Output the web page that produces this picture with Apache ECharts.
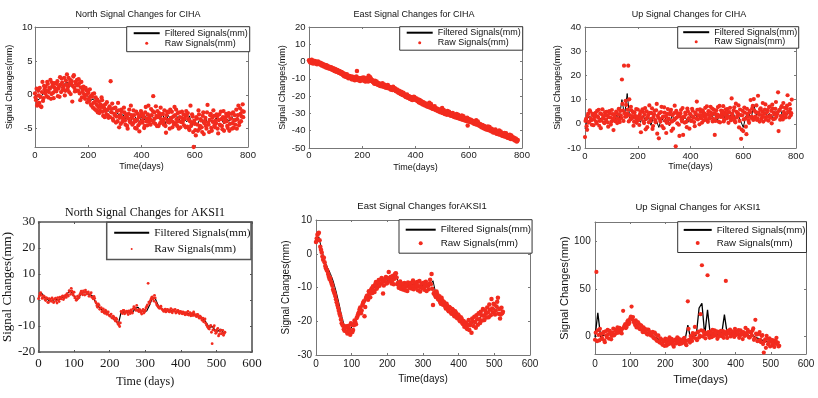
<!DOCTYPE html>
<html>
<head>
<meta charset="utf-8">
<script src="https://cdn.jsdelivr.net/npm/echarts@6/dist/echarts.min.js"></script>
<style>
html, body { margin: 0; padding: 0; background: #fff; }
#chart { width: 818px; height: 398px; }
</style>
</head>
<body>
<div id="chart"></div>
<script>
// raw ones every 4 days (two interleaved sets, days 0,4,.. and 2,6,..),
// filtered ones every 10 (CIHA) / 8 (AKSI1) days
var rawStep = 4, cihaFiltStep = 10, aksiFiltStep = 8;

var northCihaRaw = [
  0.2, -0.8, -1.6, 0.6, -1.2, -0.3, -1.8, 1.9, -0.5, 0.8,
  1.2, -0.2, 1.6, 0.4, 0.9, -0.6, 1.8, 0.3, 1.1, 0.6,
  0.5, 2.0, 0.9, -0.3, 1.5, 2.4, 0.7, 1.3, -0.1, 2.1,
  3.0, 1.2, 0.4, 2.2, 1.6, -1.0, 2.7, 1.0, 1.9, 0.6,
  1.4, 2.3, 0.2, 1.1, -0.4, 0.9, 0.1, -0.6, 0.7, -1.1,
  0.3, -0.9, -0.2, -1.6, 0.1, -1.2, -2.1, -0.4, -1.5, -2.6,
  -1.0, -2.3, -1.8, -0.8, -3.1, -2.0, -1.4, -2.9, -2.2, -3.4,
  -1.7, 2.0, -2.6, -3.5, -2.0, -3.0, -4.1, -2.4, -1.2, -4.8,
  -3.0, -2.2, -4.0, -3.6, -2.6, -4.4, -3.2, -5.0, -2.8, -3.9,
  -1.6, -3.4, -4.2, -3.0, -4.9, -2.5, -3.7, -4.5, -5.4, -3.1,
  -2.7, -4.1, -3.3, -4.6, -1.8, -3.5, -2.9, -4.0, -3.6, -2.1,
  -3.8, -0.2, -2.6, -4.3, -3.1, -2.4, -4.6, -3.0, -1.9, -3.9,
  -2.8, -4.4, -3.5, -5.6, -2.5, -3.7, -4.1, -2.2, -3.4, -4.8,
  -3.2, -1.8, -4.2, -3.6, -2.7, -5.0, -3.3, -4.0, -2.5, -3.8,
  -4.5, -3.0, -2.4, -4.7, -3.6, -5.2, -1.6, -4.1, -3.2, -7.7,
  -4.3, -6.0, -3.5, -5.3, -2.9, -4.6, -3.8, -5.5, -2.6, -4.2,
  -3.4, -5.0, -1.5, -4.4, -3.7, -2.8, -5.3, -4.0, -3.1, -4.8,
  -4.2, -3.2, -5.7, -2.9, -4.5, -3.6, -5.1, -2.4, -4.0, -3.3,
  -3.9, -4.9, -2.7, -4.3, -3.5, -5.0, -2.6, -3.8, -4.4, -2.2,
  -3.6, -1.6, -4.1, -2.8, -3.2, -1.4, -2.5
];
var northCihaRawB = [
  -0.4, 0.9, -1.3, -0.1, 1.0, -1.7, 0.4, -0.9, 1.3, 0.2,
  0.6, 1.9, -0.4, 1.0, 2.2, 0.1, 1.4, -0.5, 1.7, 0.9,
  1.6, -0.2, 1.2, 2.6, 0.4, 1.8, 1.0, 2.5, 0.6, 1.5,
  0.8, 2.5, 1.7, 0.1, 2.0, 1.3, 2.9, 0.5, 1.6, 2.2,
  0.6, 1.7, -0.8, 1.9, 0.5, 1.2, -0.3, 1.0, 0.0, 0.6,
  -0.6, 0.8, -1.4, -0.3, -1.9, 0.2, -1.0, -2.3, -0.7, -1.8,
  -2.7, -1.4, -0.4, -2.5, -1.6, -3.3, -2.4, -1.1, -3.0, -2.0,
  -3.3, -2.1, -1.3, -3.8, -2.8, -1.9, -3.2, -3.9, -2.3, -3.4,
  -4.3, -2.5, -3.4, -1.9, -3.8, -2.9, -4.6, -3.5, -2.2, -4.1,
  -3.0, -4.4, -2.3, -3.7, -3.9, -5.0, -2.8, -3.3, -4.2, -2.4,
  -3.8, -3.0, -4.9, -2.6, -3.9, -4.5, -1.6, -3.2, -4.4, -3.0,
  -2.4, -4.1, -3.5, -1.7, -4.6, -3.3, -2.7, -4.2, -3.6, -2.9,
  -3.9, -2.3, -4.6, -3.0, -4.0, -2.6, -5.0, -3.7, -2.5, -4.0,
  -4.4, -3.0, -2.2, -4.6, -3.9, -2.6, -4.8, -3.4, -4.1, -2.9,
  -3.5, -4.8, -3.1, -2.7, -5.0, -3.9, -4.6, -2.9, -5.5, -3.8,
  -5.2, -3.3, -4.4, -2.3, -5.0, -3.6, -4.8, -3.1, -5.8, -3.9,
  -4.6, -2.6, -4.1, -5.5, -3.0, -4.9, -3.4, -2.3, -4.5, -3.8,
  -2.9, -5.0, -3.7, -4.4, -2.5, -4.6, -3.3, -5.3, -3.7, -2.8,
  -4.6, -3.1, -5.3, -3.5, -2.8, -4.2, -4.9, -3.0, -3.7, -5.0,
  -3.0, -4.5, -2.0, -3.9, -2.4, -3.3
];
var northCihaFilt = [
  0.0, -0.8, -0.5, 0.2, 0.8, 0.5, 1.2, 0.9, 1.0, 1.4,
  1.1, 1.6, 1.9, 1.2, 1.5, 0.9, 1.7, 1.0, 0.4, 0.1,
  -0.3, -0.8, -0.6, -1.4, -1.9, -1.6, -2.3, -2.0, -2.6, -2.4,
  -3.1, -2.7, -3.3, -2.9, -3.6, -3.2, -3.9, -3.0, -3.5, -4.2,
  -3.3, -3.7, -2.9, -3.4, -3.1, -3.8, -3.2, -3.5, -2.8, -4.3,
  -3.0, -3.6, -3.4, -2.9, -3.8, -3.2, -3.5, -4.0, -3.1, -4.6,
  -3.9, -4.4, -3.5, -4.1, -3.3, -4.5, -3.7, -4.2, -3.4, -4.0,
  -3.6, -4.3, -3.5, -3.9, -3.2, -4.0, -3.3, -2.9, -2.5
];

var eastCihaRaw = [
  0.8, -0.4, 0.2, -1.0, 0.5, -0.7, 0.1, -1.3, -0.2, -0.9,
  -1.5, -0.8, -2.3, -1.6, -2.8, -2.1, -3.4, -2.6, -3.9, -3.1,
  -4.2, -3.5, -4.8, -4.0, -5.4, -4.6, -5.9, -5.2, -6.5, -5.7,
  -7.0, -6.3, -7.8, -8.5, -7.4, -8.9, -8.1, -9.6, -8.4, -9.0,
  -10.2, -8.8, -9.7, -10.8, -9.3, -5.4, -10.5, -9.8, -11.2, -10.0,
  -9.4, -10.9, -10.1, -11.5, -9.6, -10.4, -8.2, -11.0, -9.9, -10.6,
  -11.8, -12.4, -11.1, -13.0, -12.2, -13.6, -12.8, -14.1, -13.3, -12.6,
  -14.5, -13.8, -15.0, -14.2, -13.5, -15.4, -14.7, -16.1, -15.2, -14.6,
  -16.4, -15.7, -17.2, -16.6, -18.0, -17.3, -18.7, -17.9, -19.3, -18.5,
  -19.8, -20.5, -19.1, -21.0, -20.2, -21.6, -20.8, -22.3, -21.4, -20.7,
  -22.0, -21.3, -22.8, -23.5, -22.2, -24.1, -23.3, -24.8, -23.9, -25.4,
  -24.6, -26.0, -25.2, -23.8, -26.7, -25.9, -27.3, -26.5, -25.8, -27.9,
  -27.1, -28.4, -27.7, -29.0, -28.2, -26.9, -29.6, -28.8, -30.2, -29.3,
  -28.6, -30.5, -29.8, -31.2, -30.4, -29.7, -31.8, -30.9, -32.3, -31.5,
  -30.8, -32.6, -31.9, -33.3, -32.5, -31.7, -33.9, -32.9, -34.4, -37.0,
  -33.2, -34.8, -33.6, -35.3, -34.5, -36.0, -35.1, -33.9, -36.6, -35.7,
  -37.2, -36.4, -38.0, -36.9, -38.6, -37.7, -39.2, -38.3, -37.5, -39.8,
  -38.9, -40.3, -39.5, -41.0, -40.1, -39.3, -41.6, -40.7, -42.1, -41.3,
  -40.5, -42.6, -41.8, -43.2, -42.4, -41.5, -43.8, -42.9, -44.3, -43.5,
  -42.7, -44.6, -43.9, -45.3, -44.5, -46.2, -45.4
];
var eastCihaRawB = [
  0.3, -0.6, 1.0, -0.3, -1.1, 0.4, -0.5, -1.6, 0.0, -1.2,
  -0.7, -2.0, -1.2, -2.4, -1.9, -3.1, -2.2, -3.6, -2.9, -4.0,
  -3.3, -4.6, -3.8, -5.1, -4.3, -5.7, -4.9, -6.2, -5.5, -6.8,
  -6.1, -7.5, -6.7, -8.0, -8.6, -7.3, -9.1, -8.3, -9.5, -8.7,
  -9.4, -10.4, -9.0, -10.1, -8.6, -10.6, -9.5, -10.9, -9.7, -10.3,
  -10.7, -9.2, -11.2, -10.3, -9.8, -11.6, -10.0, -9.1, -11.3, -10.8,
  -11.4, -12.9, -12.0, -11.6, -13.3, -12.5, -13.9, -13.0, -14.3, -13.5,
  -13.2, -14.8, -14.0, -15.3, -14.4, -14.9, -16.0, -15.5, -16.4, -15.8,
  -15.5, -17.0, -16.2, -17.6, -16.9, -18.3, -17.5, -19.0, -18.1, -19.6,
  -20.2, -19.4, -20.8, -19.9, -21.3, -20.5, -21.9, -21.0, -20.3, -22.1,
  -21.5, -22.6, -21.9, -23.2, -24.0, -22.9, -24.5, -23.6, -25.0, -24.2,
  -25.7, -24.9, -26.3, -25.5, -24.6, -27.0, -26.2, -27.6, -26.8, -28.1,
  -27.4, -28.8, -27.9, -29.3, -28.5, -29.8, -28.0, -30.3, -29.4, -30.8,
  -30.0, -29.1, -31.0, -30.2, -31.5, -30.7, -32.1, -31.3, -30.4, -32.6,
  -31.9, -33.1, -32.3, -31.2, -33.6, -32.7, -34.0, -33.2, -32.5, -34.4,
  -34.6, -33.8, -35.0, -34.2, -35.6, -34.8, -36.2, -35.4, -34.6, -36.9,
  -36.1, -37.5, -36.7, -38.1, -37.3, -38.8, -37.9, -39.4, -38.6, -37.8,
  -39.7, -38.8, -40.5, -39.6, -41.1, -40.3, -41.8, -40.9, -39.9, -42.4,
  -41.6, -42.9, -42.1, -41.3, -43.5, -42.6, -44.0, -43.2, -42.3, -44.8,
  -43.6, -45.0, -44.2, -45.7, -44.9, -46.0
];
var eastCihaFilt = [
  0.0, -0.5, -0.8, -0.6, -1.8, -2.5, -3.0, -3.6, -4.3, -5.0,
  -5.4, -6.1, -6.8, -7.6, -8.2, -8.8, -9.3, -9.9, -10.1, -10.4,
  -10.0, -10.6, -10.2, -9.8, -11.3, -12.0, -12.9, -13.5, -14.0, -14.6,
  -14.3, -15.1, -16.0, -16.8, -17.5, -18.3, -19.6, -20.2, -20.9, -21.3,
  -21.8, -22.5, -23.0, -24.2, -24.7, -25.5, -26.1, -26.3, -27.2, -27.9,
  -28.3, -28.9, -29.4, -30.2, -30.6, -31.1, -31.8, -32.4, -32.9, -33.6,
  -33.8, -34.5, -35.1, -35.5, -36.6, -37.2, -37.9, -38.5, -39.1, -39.7,
  -40.0, -40.6, -41.3, -41.9, -42.4, -43.0, -43.6, -44.2, -44.9
];

var upCihaRaw = [
  -5.5, 2.0, -2.5, 4.2, 0.8, 5.0, 1.5, 3.6, -0.6, 2.8,
  4.5, 0.2, 3.1, 5.8, 1.2, -1.8, 3.9, 2.3, 0.5, 4.8,
  1.7, 3.4, -1.2, 5.2, 2.6, 0.9, 4.0, -2.6, 3.0, 1.4,
  4.6, 2.1, 6.2, 0.7, 3.5, 18.3, 5.5, 24.0, 2.9, 7.8,
  4.3, 24.0, 10.1, 1.8, 5.6, 3.2, -0.8, 4.7, 2.4, 0.4,
  5.9, 1.6, 3.8, -3.5, 2.7, 4.9, 0.3, 6.5, 2.0, -1.4,
  3.7, 7.6, 1.1, 4.4, -2.1, 2.9, 5.3, 0.6, 8.2, 3.3,
  -6.0, 1.9, 4.8, -0.9, 3.0, 6.8, 1.3, -3.8, 4.1, 2.2,
  0.1, 5.0, -2.9, 3.6, 1.5, 7.5, -9.3, 2.6, 4.3, -0.4,
  3.1, 5.7, 1.0, -4.6, 2.8, 4.6, 0.8, 6.3, 2.0, -2.0,
  3.9, 1.4, 5.4, 2.5, -1.0, 4.2, 9.2, 1.8, 3.4, 6.0,
  2.3, 0.5, 4.7, 3.0, 6.6, 1.6, 3.8, 5.2, 2.1, 7.0,
  3.6, 1.0, 5.9, -4.6, 4.0, 2.7, 6.9, 3.2, 0.6, 5.5,
  2.9, 7.3, 1.8, 4.5, 3.3, 6.1, 0.4, 4.8, 2.4, 10.5,
  3.0, 5.6, 1.2, 8.3, 2.6, 4.4, -1.5, 5.9, -6.2, 3.5,
  -3.0, 6.7, 2.2, -4.3, 4.1, 1.4, 5.3, 9.8, 3.0, 7.4,
  10.2, 2.5, 4.8, 1.6, 11.6, 3.7, 6.0, 2.0, 5.1, 0.9,
  4.2, 8.0, 2.8, 5.7, 1.3, 7.1, 3.4, 0.2, 6.3, 4.6,
  2.1, 9.0, 3.9, 13.0, 5.5, 1.7, 6.8, 3.1, 8.6, 4.2,
  2.6, 6.4, 11.8, 4.9, 8.1, 3.5, 10.0
];
var upCihaRawB = [
  1.2, -1.0, 3.3, 0.5, 5.6, 2.2, -0.4, 4.1, 1.8, 3.7,
  0.9, 5.3, 2.5, -0.8, 4.3, 1.4, 6.0, 2.9, 0.3, 3.5,
  4.9, 0.6, 2.8, 4.4, -0.3, 5.7, 2.0, 3.9, 1.1, 5.0,
  0.3, 3.8, 1.6, 5.3, 2.4, 8.2, 1.2, 4.4, 9.5, 3.1,
  5.9, 1.0, 3.6, 7.0, 2.2, 4.8, 0.8, 3.3, 6.1, 1.5,
  3.0, -0.5, 4.9, 2.3, 6.0, 1.0, 3.7, -2.3, 5.1, 2.8,
  0.6, 4.5, 2.0, 6.4, -0.9, 3.9, 1.5, 5.6, -4.1, 2.5,
  4.4, 0.9, 7.0, 2.6, -1.8, 4.6, 3.1, 0.4, 6.1, 1.8,
  3.9, 5.8, 1.0, -2.0, 4.4, 2.1, 5.3, 0.2, 3.5, -5.0,
  4.3, 1.8, 6.5, 2.9, 0.5, 3.8, -1.4, 5.2, 2.4, 4.0,
  1.2, 6.2, 3.0, 0.7, 4.6, 2.2, 5.8, 3.5, -0.2, 4.9,
  3.4, 5.6, 1.4, 4.2, 2.6, 7.2, 0.8, 5.0, 3.3, 4.5,
  6.3, 2.0, 4.4, 1.2, 5.6, 3.8, 0.9, 7.4, 2.8, 4.2,
  5.2, 1.0, 3.9, 6.0, 2.2, 4.7, 3.0, 6.6, 1.5, 4.1,
  2.4, 6.8, 0.6, 4.9, 3.4, 7.6, 1.2, 3.6, -2.4, 5.3,
  1.8, 4.6, -1.2, 6.2, 2.9, 0.4, 4.8, 2.4, 6.4, 1.6,
  5.4, 3.0, 7.6, 2.2, 4.6, 0.9, 6.4, 3.6, 8.6, 2.8,
  5.9, 1.7, 4.8, 3.1, 6.9, 2.5, 5.3, 7.9, 1.9, 4.0,
  6.2, 2.9, 4.7, -3.0, 5.8, 3.2, 7.3, 1.8, 4.9, 6.6,
  3.8, 7.5, 5.0, 2.6, 6.1, 4.4
];
var upCihaFilt = [
  -2.0, 2.5, 3.0, 1.5, 2.8, 3.4, 1.9, 2.6, 0.8, 3.1,
  2.2, 1.0, 3.5, 2.4, 10.0, 3.5, 12.5, 2.0, 3.2, 1.8,
  2.6, 0.6, 3.4, 1.2, 2.8, -0.6, 3.0, 1.5, -1.5, 2.4,
  0.8, 3.2, -0.9, 3.8, 1.0, 2.2, 3.6, 1.4, 2.7, 0.6,
  3.0, 2.2, 3.8, 1.7, 3.5, 2.4, 4.1, 3.0, 2.2, 4.4,
  1.0, 3.6, 4.8, 2.5, 4.0, 3.1, 5.0, 2.2, 3.8, 1.2,
  -1.5, 3.2, 4.6, 2.0, 8.0, 3.4, 4.7, 2.6, 5.0, 3.3,
  4.2, 2.4, 5.1, 3.5, 6.2, 2.8, 4.6, 3.9, 5.2
];

var northAksiRaw = [
  0.5, 2.5, 1.8, 0.9, 1.4, -0.2, 0.6, -1.0, 0.3, -0.5,
  0.2, -0.8, 0.7, -1.2, 0.0, 1.1, 0.4, 1.6, 0.8, 1.9,
  2.4, 1.5, 3.2, 4.5, 2.6, 3.0, 1.2, 0.2, 0.8, 2.1,
  3.4, 2.0, 2.9, 3.8, 2.3, 3.1, 1.7, 2.8, 0.9, 1.4,
  -0.6, -2.2, -1.5, -3.6, -2.9, -4.2, -4.8, -3.9, -5.5, -4.6,
  -6.2, -5.4, -7.0, -6.6, -8.1, -7.5, -9.3, -10.2, -4.4, -5.2,
  -4.0, -4.9, -4.3, -5.6, -4.6, -3.8, -5.0, -2.6, -3.3, -2.1,
  -4.1, -3.6, -4.8, -4.2, -5.0, -3.9, -2.5, 6.4, -1.3, 0.3,
  1.2, -0.4, 0.8, -1.8, -2.6, -3.2, -2.4, -3.7, -4.4, -3.5,
  -4.2, -3.8, -4.6, -3.3, -4.9, -4.1, -3.6, -4.7, -4.0, -5.2,
  -4.5, -5.3, -4.8, -5.7, -5.0, -4.4, -5.5, -6.1, -5.2, -4.6,
  -5.9, -6.4, -5.6, -7.0, -6.6, -7.8, -8.4, -7.3, -9.6, -10.5,
  -11.2, -9.8, -16.8, -10.4, -11.8, -12.5, -10.9, -13.2, -11.6, -12.8,
  -13.6, -12.4
];
var northAksiRawB = [
  1.5, 2.8, 0.6, 1.6, 0.2, 0.9, -0.9, 0.5, -0.3, 0.8,
  -1.0, 0.4, -0.3, 0.9, -0.6, 0.6, 1.3, 0.2, 1.4, 1.0,
  1.9, 3.6, 2.2, 3.5, 1.8, 0.8, -0.1, 1.5, 1.0, 2.6,
  2.5, 3.5, 1.9, 3.0, 2.6, 1.4, 2.4, 1.1, 0.4, 0.6,
  -1.2, -2.8, -2.0, -3.2, -4.5, -3.4, -5.1, -4.3, -5.0, -5.8,
  -5.8, -6.8, -6.2, -7.6, -7.0, -8.6, -9.6, -8.8, -4.8, -4.0,
  -5.3, -4.5, -4.9, -4.2, -5.2, -4.4, -3.4, -2.9, -4.0, -3.8,
  -4.5, -4.0, -5.4, -3.6, -4.6, -3.0, -1.9, -0.8, -0.4, 1.0,
  0.4, 1.8, -1.0, -2.2, -3.0, -2.8, -3.4, -4.0, -3.9, -4.6,
  -3.6, -4.4, -3.9, -4.5, -3.8, -4.3, -5.0, -4.2, -4.8, -4.4,
  -5.0, -4.6, -5.4, -4.9, -5.6, -5.8, -4.9, -5.7, -6.0, -5.3,
  -6.1, -5.5, -6.5, -6.2, -7.2, -7.0, -8.0, -8.9, -10.0, -11.0,
  -10.2, -12.4, -11.5, -9.9, -12.8, -11.4, -13.8, -12.1, -13.0, -11.7,
  -12.9
];
var northAksiFilt = [
  1.0, 2.8, 1.2, 0.3, -0.4, -0.2, 0.3, 0.0, 0.8, 1.2,
  2.2, 3.8, 2.5, 0.5, 0.4, 2.6, 2.9, 2.7, 2.0, 1.5,
  -0.8, -2.4, -3.5, -4.6, -5.0, -6.1, -7.0, -7.8, -9.5, -4.8,
  -4.6, -4.8, -4.5, -4.9, -3.2, -2.8, -4.3, -4.5, -4.2, -2.0,
  0.8, 0.6, -2.0, -3.2, -3.8, -4.0, -4.3, -4.1, -4.5, -4.4,
  -4.8, -5.1, -5.0, -5.4, -5.3, -5.8, -6.2, -6.8, -7.4, -8.8,
  -10.8, -10.1, -11.6, -12.0, -11.2, -12.6
];

var eastAksiRaw = [
  3.5, 5.6, 6.2, 2.1, 0.4, -1.8, -2.5, -4.3, -5.1, -6.8,
  -7.2, -8.9, -10.6, -11.8, -13.5, -15.2, -16.9, -18.4, -20.6, -21.3,
  -22.8, -21.5, -23.6, -22.1, -24.0, -21.0, -22.6, -19.8, -20.9, -18.6,
  -17.4, -15.9, -16.8, -14.6, -18.5, -13.2, -12.4, -11.1, -12.9, -10.3,
  -9.6, -11.3, -8.4, -9.9, -7.8, -8.9, -7.2, -11.8, -8.1, -6.9,
  -8.6, -5.4, -7.6, -8.8, -6.5, -7.4, -5.8, -9.0, -10.1, -8.2,
  -9.4, -10.6, -8.7, -9.8, -11.0, -8.9, -9.5, -10.3, -7.9, -9.1,
  -10.0, -8.4, -9.6, -11.2, -8.8, -9.9, -10.7, -8.3, -9.2, -10.5,
  -7.7, -6.0, -15.2, -11.4, -12.8, -11.9, -13.6, -14.3, -13.0, -15.1,
  -14.5, -16.2, -15.4, -17.0, -16.1, -17.8, -16.7, -18.5, -17.4, -19.1,
  -18.3, -20.0, -19.2, -20.8, -21.6, -20.4, -22.3, -19.6, -21.2, -23.4,
  -20.1, -18.7, -21.9, -19.4, -17.6, -20.5, -18.2, -16.4, -19.6, -17.8,
  -15.9, -18.8, -16.6, -13.4, -17.3, -15.0, -16.9, -14.2, -17.8, -19.2,
  -16.0, -17.2
];
var eastAksiRawB = [
  4.5, 6.0, 4.0, 1.2, -0.8, -1.2, -3.6, -4.8, -6.0, -7.5,
  -8.2, -9.5, -11.2, -12.5, -14.4, -16.0, -17.8, -19.5, -21.0, -22.4,
  -21.9, -23.0, -21.4, -22.9, -20.6, -23.2, -21.2, -20.2, -19.0, -17.9,
  -16.5, -17.6, -15.2, -14.1, -15.8, -12.6, -13.6, -11.8, -10.8, -11.6,
  -10.8, -9.0, -10.4, -8.6, -9.5, -7.6, -8.4, -9.4, -7.4, -8.8,
  -7.2, -8.0, -6.8, -7.9, -9.0, -5.9, -7.0, -8.6, -9.4, -10.4,
  -8.9, -9.9, -10.8, -9.0, -8.5, -10.1, -8.7, -9.8, -10.5, -8.6,
  -9.3, -10.8, -8.1, -9.9, -10.2, -8.6, -9.6, -11.0, -9.4, -8.8,
  -9.0, -10.4, -11.8, -12.4, -11.2, -13.4, -12.6, -14.8, -13.8, -14.2,
  -15.6, -14.8, -16.6, -15.8, -17.4, -16.4, -18.0, -17.0, -18.8, -18.0,
  -19.6, -18.8, -20.5, -19.9, -20.9, -22.0, -21.0, -22.6, -20.4, -19.2,
  -21.4, -20.2, -18.2, -21.0, -19.4, -17.2, -19.8, -18.4, -16.8, -18.9,
  -17.4, -15.0, -18.2, -16.2, -14.8, -18.0, -15.6, -13.0, -16.4, -18.0,
  -17.6
];
var eastAksiFilt = [
  3.0, 5.0, 1.2, -2.0, -4.0, -5.8, -8.0, -11.0, -14.5, -18.5,
  -21.5, -22.0, -22.5, -21.0, -19.0, -17.0, -16.0, -14.5, -13.0, -11.8,
  -10.5, -9.4, -9.0, -8.6, -8.3, -8.0, -7.6, -7.2, -5.8, -9.0,
  -9.6, -9.2, -9.8, -9.4, -9.0, -9.6, -9.3, -9.5, -9.2, -9.9,
  -9.5, -8.0, -11.8, -13.0, -13.8, -14.8, -15.6, -16.4, -17.0, -18.0,
  -18.8, -19.6, -20.4, -21.0, -20.2, -20.6, -19.8, -19.2, -18.6, -17.8,
  -17.2, -16.4, -16.0, -16.6, -15.8, -16.8
];

var upAksiRaw = [
  -3.5, 68.0, 6.5, -4.2, 2.8, -1.6, 4.5, -6.0, 1.2, 7.0,
  -2.4, 3.6, 0.5, 8.2, 2.0, 5.5, 9.6, 4.1, 7.4, 3.2,
  27.0, 11.5, 8.8, 15.6, 13.0, 18.8, 31.5, 20.5, 14.2, 17.0,
  10.4, 13.8, 7.6, 11.2, 4.5, 8.3, 6.0, 2.4, 7.2, 3.6,
  0.8, 4.9, -2.0, 2.5, -4.6, 1.2, -6.5, -3.0, -8.8, -5.2,
  -2.4, -9.6, -4.5, -1.0, -7.2, -5.8, -10.8, -3.4, -6.6, -1.8,
  -8.1, -4.0, -6.9, -2.6, -5.3, -9.2, 37.0, -3.5, 0.4, -4.8,
  2.0, 10.0, -2.2, 4.4, -1.2, 23.5, 75.0, 6.0, 1.8, 3.4,
  64.5, 0.6, 5.2, -0.8, 3.0, 6.4, 1.2, -2.5, 4.8, 2.2,
  0.2, 5.6, 2.8, 58.5, -1.6, 4.0, 7.2, 1.4, 3.6, -0.6,
  5.4, 2.6, 6.8, 0.8, 4.2, -2.8, 3.0, 9.0, 1.6, 5.0,
  -1.0, 3.8, 6.2, -3.6, 17.5, 2.0, -4.4, 4.6, -6.0, 1.4,
  -17.0, -3.0, 0.6, -8.2, -2.0, -5.6, -9.4, -4.0, -7.0, -1.4,
  -6.4, -9.8
];
var upAksiRawB = [
  4.0, -5.0, 1.5, 8.0, -2.5, 3.0, -4.0, 5.5, -1.0, 2.5,
  6.0, -3.0, 4.0, 1.0, 7.0, 3.5, 6.0, 9.0, 5.0, 8.0,
  9.5, 13.0, 10.0, 17.0, 14.5, 21.0, 18.0, 15.5, 12.0, 9.5,
  15.0, 8.5, 12.0, 6.5, 9.5, 4.5, 7.5, 2.0, 5.0, 1.5,
  3.0, -1.0, 4.0, -3.5, 0.5, -5.5, -2.0, -7.5, -4.0, -10.0,
  -6.0, -3.0, -8.0, -5.0, -2.5, -9.0, -4.0, -7.5, -1.0, -5.5,
  -3.0, -7.5, -5.0, -1.5, -8.0, -4.5, 8.0, -6.5, -2.0, 3.5,
  -1.5, 3.0, -4.0, 5.0, 1.0, 6.5, 0.0, 4.0, -2.0, 2.5,
  4.5, -1.5, 3.5, 7.0, 0.5, 2.5, 5.5, -0.5, 3.0, 6.0,
  2.0, -1.5, 4.5, 1.5, 6.0, 3.0, 0.0, 5.5, 2.5, 8.0,
  1.5, 4.0, -1.5, 6.5, 2.0, 4.5, 0.5, 3.5, 7.0, -1.0,
  4.5, 1.0, 8.5, -2.0, 3.0, -5.0, 2.5, -3.5, 0.5, -8.0,
  -5.0, -12.0, -2.5, -6.5, -10.5, -3.5, -7.0, -11.0, -4.5, -8.0,
  -10.5
];
var upAksiFilt = [
  -1.0, 25.0, -0.5, 1.5, 0.5, 2.2, 0.8, 3.0, 4.5, 5.5,
  9.0, 12.0, 14.5, 22.0, 15.0, 11.5, 8.5, 6.0, 5.0, 3.0,
  1.0, 0.0, -2.0, -3.5, -5.0, -4.5, -5.5, -6.0, -5.0, -5.8,
  -4.5, -5.2, -4.0, 12.0, -2.5, 0.5, 1.5, 30.0, 35.0, 1.5,
  28.0, 1.0, 2.5, 1.8, 3.0, 2.0, 23.0, 2.5, 3.0, 1.5,
  2.8, 2.0, 3.2, 1.0, 2.5, 0.5, 1.8, -1.0, -2.0, -3.5,
  -4.5, -5.5, -4.8, -6.0, -5.2, -6.5
];

var filteredName = 'Filtered Signals(mm)';
var rawName = 'Raw Signals(mm)';
var redDot = '#f22b1e';

var sans = 'Liberation Sans, Arial, sans-serif';
var serif = 'Liberation Serif, Times New Roman, serif';

var panels = [
  { title: 'North Signal Changes for CIHA', tx: 138, ty: 15, font: sans, titleSize: 9, tickSize: 9.5, nameSize: 9,
    grid: { left: 35, top: 27, width: 213, height: 120 }, box: '#777', boxW: 1,
    xMax: 800, xInt: 200, yMin: -7.7, yMax: 10, yTicks: [-5, 0, 5, 10],
    xMargin: 3.5, yMargin: 2.5, xGap: 15.5, yGap: 20.5, xName: 'Time(days)',
    raw: northCihaRaw, rawB: northCihaRawB, filt: northCihaFilt, filtStep: cihaFiltStep, dot: 4.3,
    legend: { left: 126.7, top: 26.7, padding: [2, 2, 4, 6], size: 9, iconW: 26, gap: 1, dot: 3 } },
  { title: 'East Signal Changes for CIHA', tx: 414, ty: 15, font: sans, titleSize: 9, tickSize: 9.5, nameSize: 9,
    grid: { left: 309, top: 27, width: 213, height: 121 }, box: '#777', boxW: 1,
    xMax: 800, xInt: 200, yMin: -50, yMax: 20, yInt: 10,
    xMargin: 2.5, yMargin: 3.5, xGap: 15, yGap: 21.5, xName: 'Time(days)',
    raw: eastCihaRaw, rawB: eastCihaRawB, filt: eastCihaFilt, filtStep: cihaFiltStep, dot: 4.5,
    legend: { left: 399.7, top: 26.7, padding: [1.5, 2, 3, 6], size: 9, iconW: 26, gap: 1, dot: 3 } },
  { title: 'Up Signal Changes for CIHA', tx: 689, ty: 15, font: sans, titleSize: 9, tickSize: 9.5, nameSize: 9,
    grid: { left: 585, top: 27, width: 211, height: 121 }, box: '#777', boxW: 1,
    xMax: 800, xInt: 200, yMin: -10, yMax: 40, yInt: 10,
    xMargin: 3, yMargin: 4, xGap: 14, yGap: 22.8, xName: 'Time(days)',
    raw: upCihaRaw, rawB: upCihaRawB, filt: upCihaFilt, filtStep: cihaFiltStep, dot: 4.2,
    legend: { left: 677.7, top: 26.7, padding: [1, 1.5, 2, 4.5], size: 9, iconW: 26, gap: 0.5, dot: 3 } },
  { title: 'North Signal Changes for AKSI1', tx: 145, ty: 213, font: serif, titleSize: 12, tickSize: 13, nameSize: 13, xNameSize: 12,
    grid: { left: 35, top: 222, width: 217, height: 130 }, box: '#555', boxW: 1.6,
    xMax: 600, xInt: 100, yMin: -20, yMax: 30, yInt: 10,
    xMargin: 5, yMargin: 3.3, xGap: 23.4, yGap: 20.2, xName: 'Time (days)',
    raw: northAksiRaw, rawB: northAksiRawB, filt: northAksiFilt, filtStep: aksiFiltStep, dot: 2.8, lineW: 1.2,
    legend: { left: 106.7, top: 222.3, padding: [5, 0.5, 5, 6.5], size: 11.3, iconW: 35, gap: 5.2, dot: 2, border: '#555', borderW: 1.5 } },
  { title: 'East Signal Changes forAKSI1', tx: 422, ty: 206, font: sans, titleSize: 9.5, tickSize: 10, nameSize: 10,
    grid: { left: 316, top: 220, width: 214, height: 135 }, box: '#777', boxW: 1,
    xMax: 600, xInt: 100, yMin: -30, yMax: 10, yInt: 10,
    xMargin: 4, yMargin: 4, xGap: 19, yGap: 24.3, xName: 'Time(days)',
    raw: eastAksiRaw, rawB: eastAksiRawB, filt: eastAksiFilt, filtStep: aksiFiltStep, dot: 4.5,
    legend: { left: 399, top: 219.7, padding: [5, 1, 5, 5.7], size: 9.8, iconW: 30, gap: 3.5, dot: 4 } },
  { title: 'Up Signal Changes for AKSI1', tx: 698, ty: 207, font: sans, titleSize: 9.5, tickSize: 10, nameSize: 11,
    grid: { left: 595, top: 222, width: 211, height: 132 }, box: '#777', boxW: 1,
    xMax: 600, xInt: 100, yMin: -18.5, yMax: 120.6, yTicks: [0, 50, 100],
    xMargin: 5, yMargin: 4.3, xGap: 20, yGap: 25, xName: 'Time(days)',
    raw: upAksiRaw, rawB: upAksiRawB, filt: upAksiFilt, filtStep: aksiFiltStep, dot: 4.2, lineW: 1.3,
    legend: { left: 677.7, top: 221.7, padding: [3.2, 1, 4.6, 5], size: 9.65, iconW: 28, gap: 3, dot: 4 } }
];

function toPairs(values, step, offset) {
  return values.map(function (v, i) { return [offset + i * step, v]; });
}

var option = {
  animation: false,
  backgroundColor: '#fff',
  title: [], grid: [], xAxis: [], yAxis: [], legend: [], series: []
};

panels.forEach(function (p, k) {
  var tick = { show: true, inside: true, length: 2, lineStyle: { color: p.box, width: 1 } };
  var line = { show: true, onZero: false, lineStyle: { color: p.box, width: p.boxW } };
  var label = { fontSize: p.tickSize, fontFamily: p.font, color: '#1a1a1a' };

  option.title.push({
    text: p.title, left: p.tx, top: p.ty, padding: 0,
    textAlign: 'center', textVerticalAlign: 'middle',
    textStyle: { fontSize: p.titleSize, fontWeight: 'normal', fontFamily: p.font, color: '#111' }
  });
  option.grid.push(Object.assign({ containLabel: false }, p.grid));

  var xBase = { type: 'value', gridIndex: k, min: 0, max: p.xMax, interval: p.xInt, splitLine: { show: false } };
  var yBase = { type: 'value', gridIndex: k, min: p.yMin, max: p.yMax, splitLine: { show: false } };
  if (p.yInt) yBase.interval = p.yInt;

  var yTick = Object.assign({}, tick), yLabel = Object.assign({ margin: p.yMargin }, label);
  if (p.yTicks) { yTick.customValues = p.yTicks; yLabel.customValues = p.yTicks; }

  option.xAxis.push(Object.assign({}, xBase, {
    position: 'bottom', axisLine: line, axisTick: tick,
    axisLabel: Object.assign({ margin: p.xMargin }, label),
    name: p.xName, nameLocation: 'middle', nameGap: p.xGap,
    nameTextStyle: { fontSize: p.xNameSize || p.nameSize, fontFamily: p.font, color: '#111' }
  }));
  option.xAxis.push(Object.assign({}, xBase, {
    position: 'top', axisLine: line, axisTick: tick, axisLabel: { show: false }
  }));
  option.yAxis.push(Object.assign({}, yBase, {
    position: 'left', axisLine: line, axisTick: yTick, axisLabel: yLabel,
    name: 'Signal Changes(mm)', nameLocation: 'middle', nameGap: p.yGap,
    nameTextStyle: { fontSize: p.nameSize, fontFamily: p.font, color: '#111' }
  }));
  option.yAxis.push(Object.assign({}, yBase, {
    position: 'right', axisLine: line, axisTick: yTick, axisLabel: { show: false }
  }));

  var lg = p.legend;
  option.legend.push({
    orient: 'vertical', left: lg.left, top: lg.top, padding: lg.padding,
    itemWidth: lg.iconW, itemHeight: lg.dot, itemGap: lg.gap,
    backgroundColor: '#fff', borderColor: lg.border || '#333', borderWidth: lg.borderW || 1,
    selectedMode: false,
    textStyle: { fontSize: lg.size, fontFamily: p.font, color: '#111' },
    data: [
      { name: filteredName, lineStyle: { width: 2, color: '#000' }, itemStyle: { opacity: 0 } },
      { name: rawName }
    ]
  });

  option.series.push({
    name: filteredName, type: 'line', xAxisIndex: 2 * k, yAxisIndex: 2 * k,
    data: toPairs(p.filt, p.filtStep, 0), symbol: 'none', showSymbol: false,
    lineStyle: { color: '#000', width: p.lineW || 1 }, itemStyle: { color: '#000' }, z: 2, silent: true
  });
  option.series.push({
    name: rawName, type: 'scatter', xAxisIndex: 2 * k, yAxisIndex: 2 * k,
    data: toPairs(p.raw, rawStep, 0).concat(toPairs(p.rawB, rawStep, rawStep / 2)),
    symbol: 'circle', symbolSize: p.dot,
    itemStyle: { color: redDot, opacity: 1 }, z: 3, silent: true
  });
});

var chart = echarts.init(document.getElementById('chart'), null, { renderer: 'canvas' });
chart.setOption(option);
</script>
</body>
</html>
